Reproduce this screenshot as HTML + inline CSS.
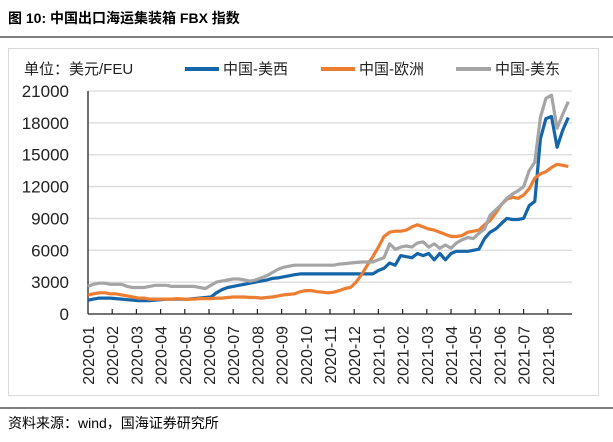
<!DOCTYPE html>
<html><head><meta charset="utf-8"><style>
body{margin:0;background:#fff;width:613px;height:437px;overflow:hidden;font-family:"Liberation Sans","Noto Sans CJK SC",sans-serif}
</style></head><body>
<svg width="613" height="437" viewBox="0 0 613 437" xmlns="http://www.w3.org/2000/svg">
<text x="8" y="23" font-size="14" font-weight="bold" fill="#000" font-family="Liberation Sans,Noto Sans CJK SC,sans-serif">图 10:  中国出口海运集装箱 FBX 指数</text>
<line x1="0" y1="37" x2="613" y2="37" stroke="#333" stroke-width="1.2"/>
<rect x="8.5" y="48.5" width="590" height="347" fill="#fff" stroke="#d9d9d9"/>
<g font-size="15" fill="#222" font-family="Liberation Sans,Noto Sans CJK SC,sans-serif">
<text x="24" y="74">单位：美元/FEU</text>
<line x1="185" y1="69" x2="219" y2="69" stroke="#1565a9" stroke-width="4"/>
<text x="223" y="74">中国-美西</text>
<line x1="321" y1="69" x2="355" y2="69" stroke="#ed7d31" stroke-width="4"/>
<text x="359" y="74">中国-欧洲</text>
<line x1="456" y1="69" x2="491" y2="69" stroke="#a5a5a5" stroke-width="4"/>
<text x="495" y="74">中国-美东</text>
</g>
<g id="grid"></g><g id="axes"></g><g id="series"></g>
<line x1="0" y1="408" x2="613" y2="408" stroke="#333" stroke-width="1.2"/>
<text x="8" y="428" font-size="14" fill="#000" font-family="Liberation Sans,Noto Sans CJK SC,sans-serif">资料来源：wind，国海证券研究所</text>
</svg>
<script>
const months=["2020-01","2020-02","2020-03","2020-04","2020-05","2020-06","2020-07","2020-08","2020-09","2020-10","2020-11","2020-12","2021-01","2021-02","2021-03","2021-04","2021-05","2021-06","2021-07","2021-08"];
const yTicks=[0,3000,6000,9000,12000,15000,18000,21000];
const west=[1300,1400,1500,1500,1500,1450,1400,1350,1300,1250,1250,1250,1300,1350,1400,1400,1400,1400,1400,1450,1500,1550,1600,2000,2300,2500,2600,2700,2800,2900,3000,3100,3200,3350,3400,3500,3600,3700,3780,3780,3780,3780,3780,3780,3780,3780,3780,3780,3780,3780,3780,3780,4100,4300,4800,4600,5500,5400,5300,5700,5500,5700,5100,5700,5100,5700,5900,5900,5900,6000,6100,7100,7700,8000,8500,9000,8900,8900,9000,10200,10600,16500,18400,18600,15700,17300,18500];
const europe=[1800,1900,2000,2000,1900,1900,1800,1700,1600,1500,1500,1400,1400,1400,1400,1400,1450,1400,1400,1400,1450,1450,1450,1500,1500,1550,1600,1600,1600,1550,1550,1500,1550,1600,1700,1800,1850,1900,2100,2200,2200,2100,2050,2000,2050,2200,2400,2500,3000,3700,4600,5400,6300,7300,7700,7800,7800,7900,8200,8400,8200,8000,7900,7700,7500,7300,7300,7400,7700,7800,7900,8400,8800,9500,10300,10800,11000,10900,11200,11800,12800,13200,13400,13800,14100,14000,13900];
const east=[2600,2800,2900,2900,2800,2800,2800,2600,2500,2500,2500,2600,2700,2700,2700,2600,2600,2600,2600,2600,2500,2400,2700,3000,3100,3200,3300,3300,3200,3100,3200,3400,3600,3900,4200,4400,4500,4600,4600,4600,4600,4600,4600,4600,4600,4700,4750,4800,4850,4900,4900,4900,5100,5300,6600,6100,6300,6400,6300,6700,6800,6300,6600,6200,6500,6200,6700,7000,7200,7100,7600,8000,9300,9800,10300,10900,11300,11600,12000,13500,14300,18500,20300,20600,17500,18800,20000];
const X0=88,X1=572,Y0=314,Y1=91,MS=24.2;
const xMonth=m=>X0+MS*m;
const xWeek=w=>X0+w*(MS*12/52);
const yv=v=>Y0-(v/21000)*(Y0-Y1);
const NS="http://www.w3.org/2000/svg";
function mk(t,a,p){const e=document.createElementNS(NS,t);for(const k in a)e.setAttribute(k,a[k]);p.appendChild(e);return e;}
const grid=document.getElementById('grid'),axes=document.getElementById('axes'),ser=document.getElementById('series');
yTicks.forEach(v=>{
 if(v>0){const g=mk('line',{x1:X0,x2:X1,y1:yv(v),y2:yv(v),stroke:'#d9d9d9','stroke-width':1.3},grid);
 
 }
 const t=mk('text',{x:69,y:yv(v)+6,'text-anchor':'end','font-size':17,fill:'#222','font-family':'Liberation Sans,sans-serif'},axes);
 t.textContent=v;
 
 
});
const ax=mk('line',{x1:X0,x2:X1,y1:Y0,y2:Y0,stroke:'#222','stroke-width':1.3},axes);


const ay=mk('line',{x1:X0,x2:X0,y1:Y1,y2:Y0,stroke:'#222','stroke-width':1.3},axes);


months.forEach((m,i)=>{
 const x=xMonth(i);
 if(i>0){const tk=mk('line',{x1:x,x2:x,y1:Y0,y2:Y0-5,stroke:'#222','stroke-width':1.2},axes);
 
 }
 const t=mk('text',{x:0,y:0,'text-anchor':'end','font-size':16,fill:'#222','font-family':'Liberation Sans,sans-serif',transform:`translate(${x+6},326) rotate(-90)`},axes);
 t.textContent=m;
 
 
});
function line(d,c,n){
 const p=mk('polyline',{points:d.map((v,i)=>xWeek(i).toFixed(1)+','+yv(v).toFixed(1)).join(' '),fill:'none',stroke:c,'stroke-width':3.2,'stroke-linejoin':'round'},ser);
 
 
}
line(west,'#1565a9','series-china-us-west');
line(europe,'#ed7d31','series-china-europe');
line(east,'#a5a5a5','series-china-us-east');
</script>
</body></html>
